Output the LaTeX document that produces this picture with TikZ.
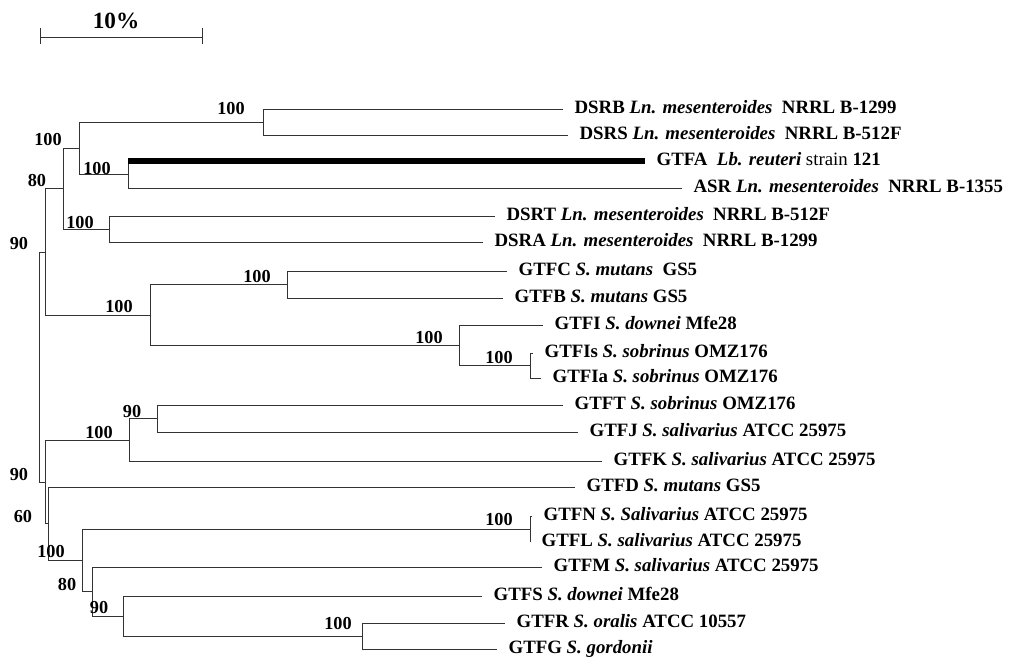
\documentclass[tikz,border=0pt]{standalone}
\usepackage{fontspec}
\setmainfont{Liberation Serif}
\begin{document}
\begin{tikzpicture}[x=0.025cm, y=-0.025cm, line width=0.6pt, color=black!80,
  every node/.append style={text=black, text height=1.6ex, text depth=0.3ex},
  leaf/.style={anchor=west, inner xsep=0.28cm, inner ysep=0pt, font=\fontsize{13.4}{15}\bfseries\selectfont},
  boot/.style={inner sep=0pt, font=\fontsize{13}{15}\bfseries\selectfont}]
  \useasboundingbox (0,0) rectangle (1013,660);
  % scale bar
  \draw (40,28) -- (40,44);  \draw (40,37) -- (202,37);  \draw (202,28) -- (202,44);
  \node[boot, font=\fontsize{16.5}{18}\bfseries\selectfont] (scale) at (116,24) {10\%};
  % leaves
  \node[leaf] (dsrb)  at (563,109) {DSRB \textit{Ln. mesenteroides}\enskip NRRL B-1299};
  \node[leaf] (dsrs)  at (568,135) {DSRS \textit{Ln. mesenteroides}\enskip NRRL B-512F};
  \node[leaf] (gtfa)  at (645,161) {GTFA\enskip \textit{Lb. reuteri} \textmd{strain} 121};
  \node[leaf] (asr)   at (682,188) {ASR \textit{Ln. mesenteroides}\enskip NRRL B-1355};
  \node[leaf] (dsrt)  at (495,216) {DSRT \textit{Ln. mesenteroides}\enskip NRRL B-512F};
  \node[leaf] (dsra)  at (483,242) {DSRA \textit{Ln. mesenteroides}\enskip NRRL B-1299};
  \node[leaf] (gtfc)  at (507,271) {GTFC \textit{S. mutans}\enskip GS5};
  \node[leaf] (gtfb)  at (503,298) {GTFB \textit{S. mutans} GS5};
  \node[leaf] (gtfi)  at (543,325) {GTFI \textit{S. downei} Mfe28};
  \node[leaf] (gtfis) at (533,353) {GTFIs \textit{S. sobrinus} OMZ176};
  \node[leaf] (gtfia) at (541,378) {GTFIa \textit{S. sobrinus} OMZ176};
  \node[leaf] (gtft)  at (563,405) {GTFT \textit{S. sobrinus} OMZ176};
  \node[leaf] (gtfj)  at (578,432) {GTFJ \textit{S. salivarius} ATCC 25975};
  \node[leaf] (gtfk)  at (602,461) {GTFK \textit{S. salivarius} ATCC 25975};
  \node[leaf] (gtfd)  at (575,487) {GTFD \textit{S. mutans} GS5};
  \node[leaf] (gtfn)  at (532,516) {GTFN \textit{S. Salivarius} ATCC 25975};
  \node[leaf] (gtfl)  at (530,542) {GTFL \textit{S. salivarius} ATCC 25975};
  \node[leaf] (gtfm)  at (542,567) {GTFM \textit{S. salivarius} ATCC 25975};
  \node[leaf] (gtfs)  at (482,596) {GTFS \textit{S. downei} Mfe28};
  \node[leaf] (gtfr)  at (505,623) {GTFR \textit{S. oralis} ATCC 10557};
  \node[leaf] (gtfg)  at (497,649) {GTFG \textit{S. gordonii}};
  % branch points
  \coordinate (jDB) at (263,122);   \coordinate (jAS) at (128,174.5);
  \coordinate (jLnA) at (79,148);   \coordinate (jDT) at (109,229);
  \coordinate (jLn) at (63,188.5);  \coordinate (jCB) at (287,284.5);
  \coordinate (jIsa) at (530,365.5); \coordinate (jI) at (459,345);
  \coordinate (jMut) at (150,315);  \coordinate (jTop) at (45,252);
  \coordinate (jTJ) at (157,418.5); \coordinate (jK) at (129,440);
  \coordinate (jNL) at (530,529);   \coordinate (jRG) at (362,636);
  \coordinate (jS) at (123,616);    \coordinate (jM) at (92,591.5);
  \coordinate (jSal) at (82,560);   \coordinate (jD) at (48,523.5);
  \coordinate (jBot) at (45,482);   \coordinate (root) at (39,367);
  % branches
  \draw (jDB) |- (dsrb.west);   \draw (jDB) |- (dsrs.west);
  \draw (jAS) |- (gtfa.west);   \draw (jAS) |- (asr.west);
  \draw[line width=4pt, black] (jAS |- gtfa.west) -- (gtfa.west);
  \draw (jLnA) |- (jDB);        \draw (jLnA) |- (jAS);
  \draw (jDT) |- (dsrt.west);   \draw (jDT) |- (dsra.west);
  \draw (jLn) |- (jLnA);        \draw (jLn) |- (jDT);
  \draw (jCB) |- (gtfc.west);   \draw (jCB) |- (gtfb.west);
  \draw (jIsa) |- (gtfis.west); \draw (jIsa) |- (gtfia.west);
  \draw (jI) |- (gtfi.west);    \draw (jI) |- (jIsa);
  \draw (jMut) |- (jCB);        \draw (jMut) |- (jI);
  \draw (jTop) |- (jLn);        \draw (jTop) |- (jMut);
  \draw (jTJ) |- (gtft.west);   \draw (jTJ) |- (gtfj.west);
  \draw (jK) |- (jTJ);          \draw (jK) |- (gtfk.west);
  \draw (jNL) |- (gtfn.west);   \draw (jNL) |- (gtfl.west);
  \draw (jRG) |- (gtfr.west);   \draw (jRG) |- (gtfg.west);
  \draw (jS) |- (gtfs.west);    \draw (jS) |- (jRG);
  \draw (jM) |- (gtfm.west);    \draw (jM) |- (jS);
  \draw (jSal) |- (jNL);        \draw (jSal) |- (jM);
  \draw (jD) |- (gtfd.west);    \draw (jD) |- (jSal);
  \draw (jBot) |- (jK);         \draw (jBot) |- (jD);
  \draw (root) |- (jTop);       \draw (root) |- (jBot);
  % bootstrap values
  \node[boot] (bDB) at (231,110) {100};   \node[boot] (bAS) at (97,170) {100};
  \node[boot] (bLnA) at (48,141) {100};   \node[boot] (bLn) at (37,182) {80};
  \node[boot] (bDT) at (80,224) {100};    \node[boot] (bTop) at (19,245) {90};
  \node[boot] (bMut) at (119,308) {100};  \node[boot] (bCB) at (257,278) {100};
  \node[boot] (bI) at (429,339) {100};    \node[boot] (bIsa) at (499,359) {100};
  \node[boot] (bTJ) at (132,413) {90};    \node[boot] (bK) at (99,434) {100};
  \node[boot] (bBot) at (19,476) {90};    \node[boot] (bD) at (23,518) {60};
  \node[boot] (bSal) at (51,553) {100};   \node[boot] (bM) at (67,586) {80};
  \node[boot] (bS) at (99,609) {90};      \node[boot] (bRG) at (338,625) {100};
  \node[boot] (bNL) at (499,521) {100};
\end{tikzpicture}
\end{document}
